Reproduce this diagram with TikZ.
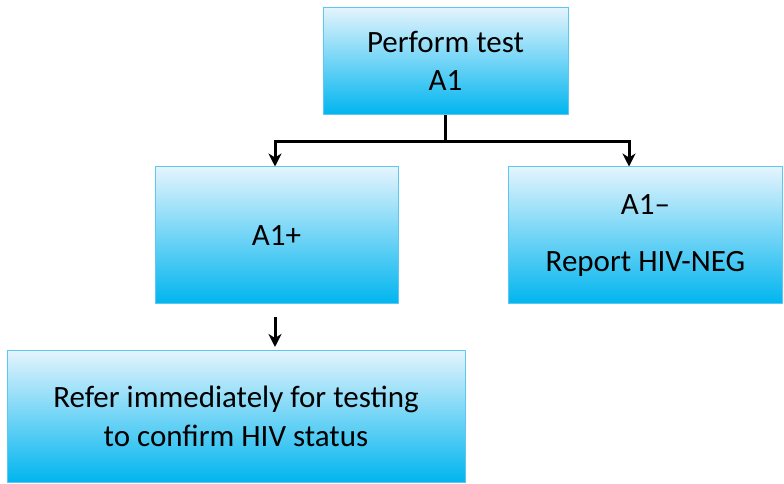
\documentclass[tikz,border=0pt]{standalone}
\usepackage{fontspec}
\setmainfont{Carlito}
\usepackage{tikz}
\usetikzlibrary{positioning, arrows.meta}
\definecolor{boxtop}{HTML}{E4F4FD}
\definecolor{boxmid}{HTML}{A6DBF5}
\definecolor{boxbot}{HTML}{00B5EF}
\definecolor{boxline}{HTML}{5CC8F2}
\tikzset{
	>={Stealth[length=13pt,width=13pt,inset=4pt]},
	align=center,
	every box/.style={draw=boxline, line width=1pt, top color=boxtop, middle color=boxmid, bottom color=boxbot,
		font=\fontsize{31}{38.5}\selectfont, inner sep=0pt},
	link/.style={->, line width=3pt}
}

\begin{document}
\begin{tikzpicture}
	[ x=1pt, y=1pt ]
	\useasboundingbox (0,0) rectangle (784,484);
	\node(test)[every box, minimum width=245pt, minimum height=107pt] at (445.5,423) {Perform test\\A1};
	\node(pos)[every box, minimum width=243pt, minimum height=137pt] at (276.5,248.5) {A1+};
	\node(neg)[every box, minimum width=274pt, minimum height=137pt] at (645.5,248.5) {A1\textendash\\[19pt]Report HIV-NEG};
	\node(refer)[every box, minimum width=458pt, minimum height=132pt] at (236,67.5) {Refer immediately for testing\\to confirm HIV status};
	\coordinate(split) at (445.5,342);
	\coordinate(down) at ([xshift=-1.5pt, yshift=-13pt]pos.south);
	\draw[line width=3pt] (test.south) -- (split);
	\draw[link] (split) -| ([xshift=-1.5pt]pos.north);
	\draw[link] (split) -| ([xshift=-16.5pt]neg.north);
	\draw[link] (down) -- ([yshift=3pt]refer.north -| down);
\end{tikzpicture}
\end{document}
